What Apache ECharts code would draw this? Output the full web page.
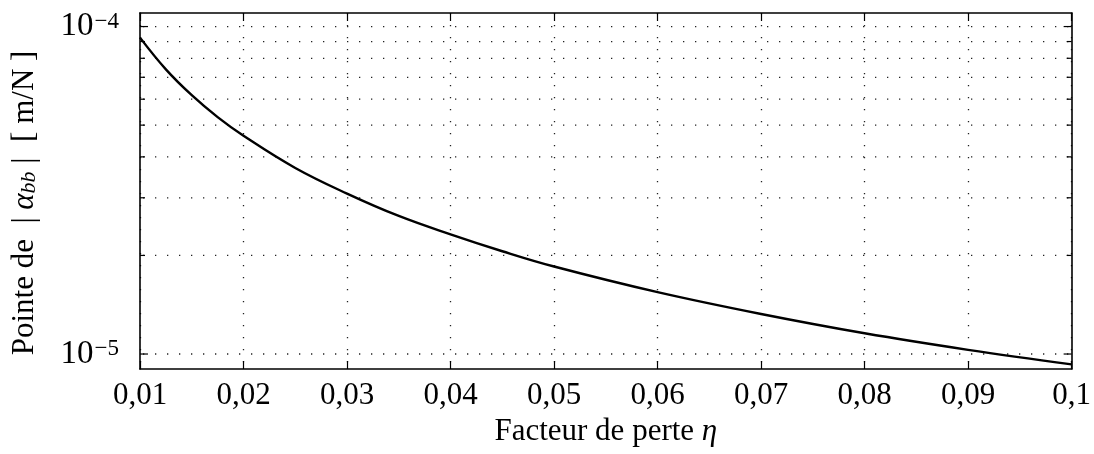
<!DOCTYPE html>
<html>
<head>
<meta charset="utf-8">
<script src="https://cdn.jsdelivr.net/npm/echarts@6/dist/echarts.min.js"></script>
<style>
html,body{margin:0;padding:0;background:#fff;}
#c{width:1094px;height:454px;}
</style>
</head>
<body>
<div id="c"></div>
<script>
// Data
var eta = [0.01, 0.0125, 0.015, 0.0175, 0.02, 0.025, 0.03, 0.035, 0.04, 0.045, 0.05, 0.06, 0.07, 0.08, 0.09, 0.1];
var alphaPeak = [9.25e-5, 7.4e-5, 6.17e-5, 5.29e-5, 4.64e-5, 3.7e-5, 3.09e-5, 2.64e-5, 2.32e-5, 2.06e-5, 1.85e-5, 1.545e-5, 1.325e-5, 1.157e-5, 1.03e-5, 9.3e-6];
var yGridValues = [1e-5, 2e-5, 3e-5, 4e-5, 5e-5, 6e-5, 7e-5, 8e-5, 9e-5, 1e-4];
var yMajorValues = [1e-5, 1e-4];
var X_MIN = 0.01, X_MAX = 0.1, X_STEP = 0.01;
var Y_MIN = 9e-6, Y_MAX = 1.1e-4;

var FONT = '"Liberation Serif", "DejaVu Serif", serif';
var chart = echarts.init(document.getElementById('c'), null, {renderer: 'canvas'});

function fmtX(v) {
  return String(parseFloat(v.toFixed(3))).replace('.', ',');
}
function fmtY(v) {
  var l = Math.log10(v);
  var r = Math.round(l);
  if (Math.abs(l - r) > 1e-6) return '';
  return '{b|10}{s|\u2212' + Math.abs(r) + '}';
}

var axisLineStyle = {color: '#000', width: 1.6};
var gridDots = {color: '#222', width: 1.3, type: [1.3, 10.7]};

var option = {
  animation: false,
  backgroundColor: '#fff',
  grid: {left: 140, right: 21, top: 13, bottom: 85, containLabel: false},
  xAxis: [{
    type: 'value', min: X_MIN, max: X_MAX, interval: X_STEP, position: 'bottom',
    axisLine: {show: true, lineStyle: axisLineStyle, onZero: false},
    axisTick: {show: true, inside: true, length: 8, lineStyle: {color: '#000', width: 1.2}},
    axisLabel: {color: '#000', fontFamily: FONT, fontSize: 31, margin: 11, formatter: fmtX},
    splitLine: {show: true, lineStyle: gridDots},
    name: '{t|Facteur de perte }{i|\u03b7}',
    nameLocation: 'middle', nameGap: 45,
    nameTextStyle: {rich: {
      t: {fontFamily: FONT, fontSize: 31, color: '#000'},
      i: {fontFamily: FONT, fontSize: 31, fontStyle: 'italic', color: '#000'}
    }}
  }, {
    type: 'value', min: X_MIN, max: X_MAX, interval: X_STEP, position: 'top',
    axisLine: {show: true, lineStyle: axisLineStyle, onZero: false},
    axisTick: {show: true, inside: true, length: 8, lineStyle: {color: '#000', width: 1.2}},
    axisLabel: {show: false},
    splitLine: {show: false}
  }],
  yAxis: [{
    type: 'log', logBase: 10, min: Y_MIN, max: Y_MAX, position: 'left',
    axisLine: {show: true, lineStyle: axisLineStyle, onZero: false},
    axisTick: {show: false},
    axisLabel: {
      margin: 21, formatter: fmtY,
      rich: {
        b: {fontFamily: FONT, fontSize: 33, color: '#000'},
        s: {fontFamily: FONT, fontSize: 23, color: '#000', verticalAlign: 'top', padding: [0, 0, 0, 1]}
      }
    },
    splitLine: {show: false},
    name: '{t|Pointe de  }{t||}{i| \u03b1}{sub|bb}{t| |  [ m/N ]}',
    nameLocation: 'middle', nameGap: 100, nameRotate: 90,
    nameTextStyle: {padding: [0, 24, 0, 0], rich: {
      t: {fontFamily: FONT, fontSize: 31, color: '#000'},
      i: {fontFamily: FONT, fontSize: 31, fontStyle: 'italic', color: '#000'},
      sub: {fontFamily: FONT, fontSize: 22, fontStyle: 'italic', color: '#000', verticalAlign: 'bottom'}
    }}
  }, {
    type: 'log', logBase: 10, min: Y_MIN, max: Y_MAX, position: 'right',
    axisLine: {show: true, lineStyle: axisLineStyle, onZero: false},
    axisTick: {show: false},
    axisLabel: {show: false},
    splitLine: {show: false}
  }],
  series: [{
    type: 'custom',
    xAxisIndex: 0, yAxisIndex: 0,
    silent: true,
    data: yGridValues.map(function (v) { return [X_MIN, v]; }),
    renderItem: function (params, api) {
      var v = api.value(1);
      var p = api.coord([X_MIN, v]);
      var q = api.coord([X_MAX, v]);
      var major = yMajorValues.some(function (m) { return Math.abs(Math.log10(m) - Math.log10(v)) < 1e-6; });
      var len = major ? 8 : 5;
      var st = {stroke: '#000', lineWidth: 1.2};
      return {
        type: 'group',
        children: [
          {type: 'line', shape: {x1: p[0], y1: p[1], x2: q[0], y2: q[1]},
           style: {stroke: '#222', lineWidth: 1.3, lineDash: [1.3, 10.7], lineDashOffset: -3}},
          {type: 'line', shape: {x1: p[0], y1: p[1], x2: p[0] + len, y2: p[1]}, style: st},
          {type: 'line', shape: {x1: q[0] - len, y1: q[1], x2: q[0], y2: q[1]}, style: st}
        ]
      };
    },
    z: 3
  }, {
    type: 'line',
    xAxisIndex: 0, yAxisIndex: 0,
    data: eta.map(function (x, i) { return [x, alphaPeak[i]]; }),
    smooth: 0.4,
    showSymbol: false, symbol: 'none',
    lineStyle: {color: '#000', width: 2.4},
    z: 5
  }]
};
chart.setOption(option);
</script>
</body>
</html>
